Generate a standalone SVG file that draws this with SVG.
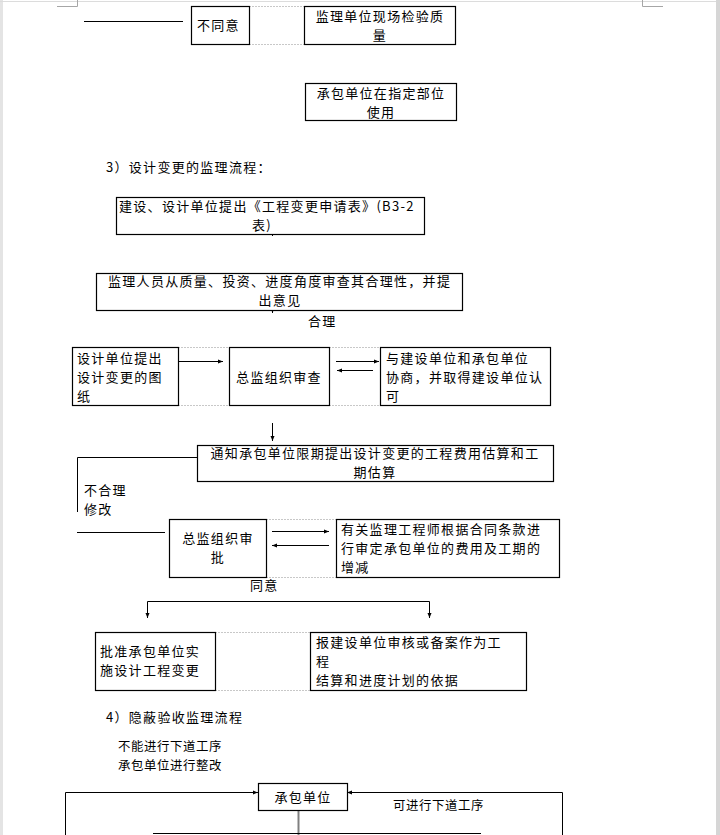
<svg xmlns="http://www.w3.org/2000/svg" width="720" height="835" viewBox="0 0 720 835">
<style>
.b{fill:#fff;stroke:#000;stroke-width:1.2}
.t{font-family:"Noto Sans CJK SC","Liberation Sans",sans-serif;font-size:13px;letter-spacing:1.3px;fill:#000}
.s{font-family:"Noto Sans CJK SC","Liberation Sans",sans-serif;font-size:12.4px;letter-spacing:0.6px;fill:#000}
.c{text-anchor:middle}
.l{stroke:#000;stroke-width:1;fill:none}
.d{stroke:#c8c8c8;stroke-width:1;stroke-dasharray:2,1;fill:none}
.g{stroke:#a6a6a6;stroke-width:1;fill:none}
</style>
<defs>
<marker id="a" markerWidth="6" markerHeight="6" refX="5" refY="3" orient="auto" markerUnits="userSpaceOnUse">
<path d="M0,1 L5,3 L0,5 z" fill="#000"/>
</marker>
</defs>
<rect x="0" y="0" width="720" height="835" fill="#fff"/>
<rect x="0" y="0" width="3" height="835" fill="#e4e4e4"/>
<rect x="716" y="0" width="4" height="835" fill="#d6d6d6"/>
<line x1="0" y1="1.5" x2="716" y2="1.5" stroke="#dcdcdc"/>
<path class="g" d="M77.5,0 V6.5 H57 M642.5,0 V6.5 H663"/>

<g id="connectors">
<line class="l" x1="84" y1="21.5" x2="183" y2="21.5"/>
<path class="d" d="M249,6.5 H305 M249,44.5 H305"/>
<line class="l" x1="272.5" y1="216" x2="272.5" y2="236" marker-end="url(#a)"/>
<line class="l" x1="272.5" y1="294" x2="272.5" y2="313" marker-end="url(#a)"/>
<line class="l" x1="178" y1="361.5" x2="223" y2="361.5" marker-end="url(#a)"/>
<line class="l" x1="272.5" y1="347" x2="272.5" y2="367" marker-end="url(#a)"/>
<path class="d" d="M178,347.5 H229 M178,405.5 H229 M329,347.5 H380 M329,405.5 H380"/>
<line class="l" x1="336" y1="361.5" x2="379" y2="361.5" marker-end="url(#a)"/>
<line class="l" x1="373" y1="370.5" x2="337" y2="370.5" marker-end="url(#a)"/>
<line class="l" x1="272.5" y1="423" x2="272.5" y2="441" marker-end="url(#a)"/>
<path class="l" d="M197,457.5 H77.5 V512"/>
<line class="l" x1="77" y1="532.5" x2="165" y2="532.5"/>
<line class="l" x1="222.5" y1="533" x2="222.5" y2="553" marker-end="url(#a)"/>
<line class="l" x1="272" y1="531.5" x2="329" y2="531.5" marker-end="url(#a)"/>
<line class="l" x1="329" y1="545.5" x2="272" y2="545.5" marker-end="url(#a)"/>
<path class="d" d="M266,519.5 H336 M266,577.5 H336"/>
<path class="l" d="M147.5,606 V601.5 H429.5 V606"/>
<line class="l" x1="147.5" y1="606" x2="147.5" y2="618" marker-end="url(#a)"/>
<line class="l" x1="429.5" y1="606" x2="429.5" y2="618" marker-end="url(#a)"/>
<path class="d" d="M215,632.5 H310 M215,690.5 H310"/>
<path class="l" stroke="#555" d="M65.5,835 V792.5 H258" marker-end="url(#a)"/>
<path class="l" stroke="#555" d="M562.5,835 V792.5 H347" marker-end="url(#a)"/>
<line x1="298.5" y1="810" x2="298.5" y2="835" stroke="#808080" stroke-width="2"/>
</g>

<g id="n1"><rect class="b" x="191.5" y="6.5" width="58" height="38"/><text class="t" x="197" y="30">不同意</text></g>
<g id="n2"><rect class="b" x="304.5" y="6.5" width="151" height="38"/><text class="t c" x="380" y="21">监理单位现场检验质</text><text class="t c" x="380" y="40">量</text></g>
<g id="n3"><rect class="b" x="305.5" y="83.5" width="151" height="37"/><text class="t c" x="381" y="98">承包单位在指定部位</text><text class="t c" x="381" y="117">使用</text></g>

<text id="h3" class="t" x="106" y="172">3）设计变更的监理流程：</text>

<g id="n4"><rect class="b" x="116.5" y="197.5" width="308" height="37"/><text class="t" x="119" y="211">建设、设计单位提出《工程变更申请表》(B3-2</text><text class="t c" x="262" y="230">表)</text></g>
<g id="n5"><rect class="b" x="96.5" y="273.5" width="366" height="37"/><text class="t" x="108" y="286">监理人员从质量、投资、进度角度审查其合理性，并提</text><text class="t c" x="280" y="305">出意见</text></g>
<text id="lbl-heli" class="t" x="308" y="326">合理</text>

<g id="n6"><rect class="b" x="72.5" y="347.5" width="106" height="58"/><text class="t" x="77" y="363">设计单位提出</text><text class="t" x="77" y="382">设计变更的图</text><text class="t" x="77" y="401">纸</text></g>
<g id="n7"><rect class="b" x="229.5" y="347.5" width="100" height="58"/><text class="t c" x="279" y="382">总监组织审查</text></g>
<g id="n8"><rect class="b" x="380.5" y="347.5" width="170" height="58"/><text class="t" x="386" y="363">与建设单位和承包单位</text><text class="t" x="386" y="382">协商，并取得建设单位认</text><text class="t" x="386" y="401">可</text></g>

<g id="n9"><rect class="b" x="197.5" y="445.5" width="356" height="36"/><text class="t c" x="375" y="458">通知承包单位限期提出设计变更的工程费用估算和工</text><text class="t c" x="375" y="477">期估算</text></g>
<text class="t" x="84" y="495">不合理</text>
<text class="t" x="84" y="514">修改</text>

<g id="n10"><rect class="b" x="169.5" y="519.5" width="97" height="58"/><text class="t c" x="218" y="543">总监组织审</text><text class="t c" x="218" y="562">批</text></g>
<g id="n11"><rect class="b" x="336.5" y="519.5" width="223" height="58"/><text class="t" x="341" y="534">有关监理工程师根据合同条款进</text><text class="t" x="341" y="553">行审定承包单位的费用及工期的</text><text class="t" x="341" y="572">增减</text></g>
<text class="t" x="250" y="590">同意</text>

<g id="n12"><rect class="b" x="95.5" y="632.5" width="120" height="58"/><text class="t" x="100" y="656">批准承包单位实</text><text class="t" x="100" y="675">施设计工程变更</text></g>
<g id="n13"><rect class="b" x="310.5" y="632.5" width="216" height="58"/><text class="t" x="316" y="647">报建设单位审核或备案作为工</text><text class="t" x="316" y="666">程</text><text class="t" x="316" y="685">结算和进度计划的依据</text></g>

<text id="h4" class="t" x="106" y="722">4）隐蔽验收监理流程</text>
<text class="s" x="118" y="751">不能进行下道工序</text>
<text class="s" x="118" y="770">承包单位进行整改</text>

<g id="n14"><rect class="b" x="258.5" y="783.5" width="89" height="27"/><text class="t c" x="303" y="802">承包单位</text></g>
<text class="s" x="393" y="810">可进行下道工序</text>
<line x1="153" y1="833.5" x2="481" y2="833.5" stroke="#000"/>
</svg>
